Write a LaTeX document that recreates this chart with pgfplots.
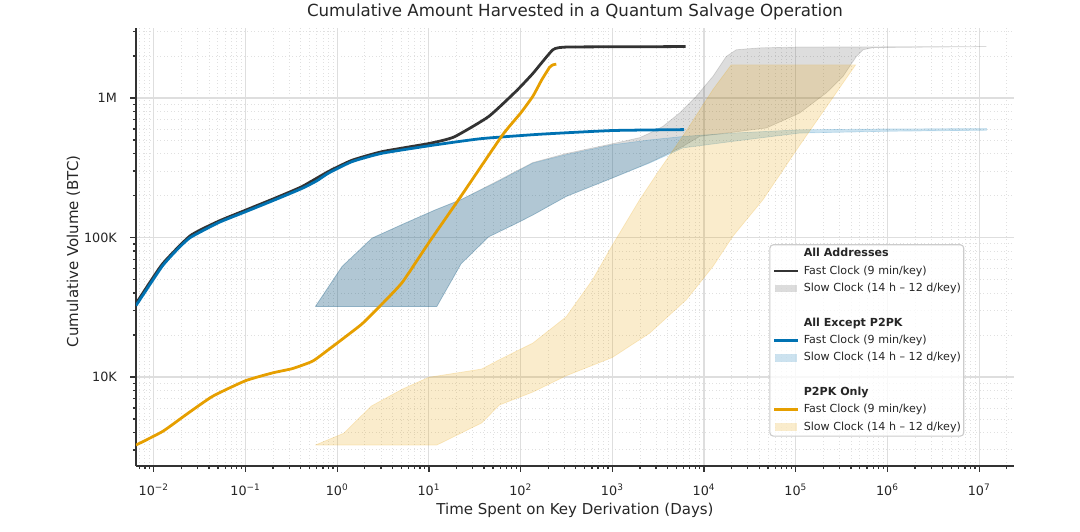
\documentclass[border=0pt]{standalone}
\usepackage{fontspec}
\setmainfont{DejaVu Sans}
\usepackage{pgfplots}
\pgfplotsset{compat=1.18}
\definecolor{cBlack}{HTML}{333333}
\definecolor{cBlue}{HTML}{0072B2}
\definecolor{cOrange}{HTML}{E69F00}
\definecolor{txt}{HTML}{262626}
\begin{document}
\begin{tikzpicture}
\path[use as bounding box] (-97.92pt,-46.8pt) rectangle (679.68pt,335.52pt);
\begin{axis}[
 at={(0pt,0pt)}, anchor=south west,
 scale only axis, width=632.16pt, height=315.36pt,
 xmode=log, ymode=log,
 xmin=0.0064, xmax=2.4e7, ymin=2300, ymax=3.18e6,
 axis x line*=bottom, axis y line*=left,
 axis line style={draw=black!80, line width=1pt},
 tick align=outside,
 major tick length=4pt, minor tick length=2.3pt,
 every tick/.style={draw=black!80, line width=0.9pt},
 xtick={1e-2,1e-1,1,1e1,1e2,1e3,1e4,1e5,1e6,1e7},
 xticklabels={10\textsuperscript{−2},10\textsuperscript{−1},10\textsuperscript{0},10\textsuperscript{1},10\textsuperscript{2},10\textsuperscript{3},10\textsuperscript{4},10\textsuperscript{5},10\textsuperscript{6},10\textsuperscript{7}},
 ytick={1e4,1e5,1e6}, yticklabels={10K,100K,1M},
 minor xtick={7e-3,8e-3,9e-3,2e-2,3e-2,4e-2,5e-2,6e-2,7e-2,8e-2,9e-2,0.2,0.3,0.4,0.5,0.6,0.7,0.8,0.9,2,3,4,5,6,7,8,9,20,30,40,50,60,70,80,90,200,300,400,500,600,700,800,900,2e3,3e3,4e3,5e3,6e3,7e3,8e3,9e3,2e4,3e4,4e4,5e4,6e4,7e4,8e4,9e4,2e5,3e5,4e5,5e5,6e5,7e5,8e5,9e5,2e6,3e6,4e6,5e6,6e6,7e6,8e6,9e6,2e7},
 minor ytick={3e3,4e3,5e3,6e3,7e3,8e3,9e3,2e4,3e4,4e4,5e4,6e4,7e4,8e4,9e4,2e5,3e5,4e5,5e5,6e5,7e5,8e5,9e5,2e6,3e6},
 grid=both,
 major grid style={draw=black!13, line width=0.8pt},
 minor grid style={draw=black!12, line width=0.6pt, dash pattern=on 0.7pt off 1.8pt},
 ticklabel style={font=\fontsize{9.2}{11}\selectfont, text=txt},
 xticklabel style={anchor=base, inner sep=0pt, yshift=-17.3pt},
 yticklabel style={anchor=east, inner sep=0pt, xshift=-9.6pt},
 title={Cumulative Amount Harvested in a Quantum Salvage Operation},
 every axis title/.style={at={(axis description cs:0.5,1.0263)}, anchor=base, font=\fontsize{12}{14}\selectfont, text=txt, inner sep=0pt},
 xlabel={Time Spent on Key Derivation (Days)},
 xlabel style={at={(axis description cs:0.5,-0.1096)}, anchor=base, font=\fontsize{10.8}{13}\selectfont, text=txt, inner sep=0pt},
 ylabel={Cumulative Volume (BTC)},
 ylabel style={at={(axis description cs:-0.066,0.49)}, anchor=base, font=\fontsize{10.8}{13}\selectfont, text=txt, inner sep=0pt},
 legend cell align=left,
 legend style={at={(axis description cs:0.9434,0.0669)}, anchor=south east,
   draw=black!20, line width=0.8pt, rounded corners=2.5pt,
   fill=white, fill opacity=0.8, draw opacity=1, text opacity=1,
   font=\fontsize{8}{9.6}\selectfont, text=txt,
   inner xsep=2pt, inner ysep=2.4pt, row sep=4.5pt, column sep=2.9pt,
   nodes={inner sep=0pt, text height=6.2pt, text depth=1.8pt}},
]
% ---- Slow clock bands ----
% All Addresses (gray)
\addplot[forget plot, fill=black!80, draw=black!80, line width=0.5pt, opacity=0.17] coordinates {
(0.578,32000) (1.13,62000) (2.4,99000) (5.1,124000) (11.8,158000) (22.4,187000) (53.2,250000) (136,345000) (314,400000) (1000,470000) (1990,520000) (2550,560000) (3560,626000) (5400,780000) (8230,1030000) (12500,1430000) (17500,1990000) (22500,2220000) (40400,2290000) (100000,2320000) (12000000,2340000)
(700000,2300000) (542000,2220000) (459000,1990000) (328000,1430000) (216000,1090000) (110000,780000) (47800,610000) (8980,531000) (5870,450000) (2550,345000) (1000,267000) (314,197000) (136,145000) (89.3,126000) (44.7,101000) (22.4,64700) (12.2,32000) (0.578,32000)
};
% All Except P2PK (blue)
\addplot[forget plot, fill=cBlue, draw=cBlue, line width=0.5pt, opacity=0.2] coordinates {
(0.578,32000) (1.13,62000) (2.4,99000) (5.1,124000) (11.8,158000) (22.4,187000) (53.2,247000) (136,342000) (314,393000) (1000,462000) (2550,501000) (5870,530000) (20600,561000) (110000,592000) (1000000,600000) (12000000,604000)
(12000000,588000) (1000000,578000) (110000,561000) (20600,489000) (5870,439000) (2550,342000) (1000,267000) (314,197000) (136,145000) (89.3,126000) (44.7,101000) (22.4,64700) (12.2,32000) (0.578,32000)
};
% P2PK Only (orange)
\addplot[forget plot, fill=cOrange, draw=cOrange, line width=0.5pt, opacity=0.2] coordinates {
(0.578,3250) (1.18,3950) (2.35,6180) (5.14,8180) (10,9950) (37.6,11400) (58.8,13300) (136,17500) (314,27000) (612,50000) (1000,88000) (1990,187000) (3280,306000) (6410,580000) (12500,1150000) (19800,1730000) (450000,1730000)
(102000,425000) (44000,187000) (20600,102000) (12500,62000) (6410,35800) (2550,20600) (1000,13800) (314,10200) (136,7800) (58.8,6300) (37.6,4680) (12.2,3250) (0.578,3250)
};
% ---- Fast clock lines ----
\addplot[forget plot, cBlack, line width=2pt, smooth, tension=0.3] coordinates {
(0.0064,33500) (0.0123,64000) (0.025,103000) (0.051,131000) (0.1,157000) (0.212,192000) (0.414,232000) (0.807,298000) (1.45,358000) (3.09,413000) (10,472000) (18.8,526000) (44.7,736000) (89.3,1120000) (136,1500000) (225,2220000) (314,2320000) (1000,2330000) (6300,2340000)
};
\addplot[forget plot, cBlue, line width=2pt, smooth, tension=0.3] coordinates {
(0.0064,32500) (0.0123,62000) (0.018,82000) (0.025,100000) (0.051,128000) (0.1,153000) (0.212,187000) (0.414,225000) (0.6,255000) (0.807,290000) (1.45,350000) (3.09,402000) (11.8,462000) (37.6,512000) (161,550000) (1000,585000) (6050,594000)
};
\addplot[forget plot, cOrange, line width=2pt, smooth, tension=0.3] coordinates {
(0.0064,3250) (0.0125,4070) (0.0225,5370) (0.0438,7270) (0.1,9400) (0.198,10700) (0.327,11500) (0.541,13000) (0.834,16000) (1.82,23700) (2.8,31300) (5.1,47500) (10,92000) (22.4,198000) (63.2,541000) (100,780000) (136,1030000) (170,1350000) (207,1660000) (225,1730000) (245,1750000)
};
% ---- Legend ----
\addlegendimage{empty legend}\addlegendentry{\textbf{All Addresses}}
\addlegendimage{legend image code/.code={\draw[cBlack,line width=2pt,sharp corners] (0pt,0pt) -- (17.5pt,0pt);}}\addlegendentry{Fast Clock (9 min/key)}
\addlegendimage{legend image code/.code={\fill[black!80,fill opacity=0.17,draw=none,sharp corners] (0.7pt,-2.7pt) rectangle (16.8pt,2.7pt);}}\addlegendentry{Slow Clock (14 h – 12 d/key)}
\addlegendimage{empty legend}\addlegendentry{\phantom{X}}
\addlegendimage{empty legend}\addlegendentry{\textbf{All Except P2PK}}
\addlegendimage{legend image code/.code={\draw[cBlue,line width=2pt,sharp corners] (0pt,0pt) -- (17.5pt,0pt);}}\addlegendentry{Fast Clock (9 min/key)}
\addlegendimage{legend image code/.code={\fill[cBlue,fill opacity=0.2,draw=none,sharp corners] (0.7pt,-2.7pt) rectangle (16.8pt,2.7pt);}}\addlegendentry{Slow Clock (14 h – 12 d/key)}
\addlegendimage{empty legend}\addlegendentry{\phantom{X}}
\addlegendimage{empty legend}\addlegendentry{\textbf{P2PK Only}}
\addlegendimage{legend image code/.code={\draw[cOrange,line width=2pt,sharp corners] (0pt,0pt) -- (17.5pt,0pt);}}\addlegendentry{Fast Clock (9 min/key)}
\addlegendimage{legend image code/.code={\fill[cOrange,fill opacity=0.2,draw=none,sharp corners] (0.7pt,-2.7pt) rectangle (16.8pt,2.7pt);}}\addlegendentry{Slow Clock (14 h – 12 d/key)}
\end{axis}
\end{tikzpicture}
\end{document}
